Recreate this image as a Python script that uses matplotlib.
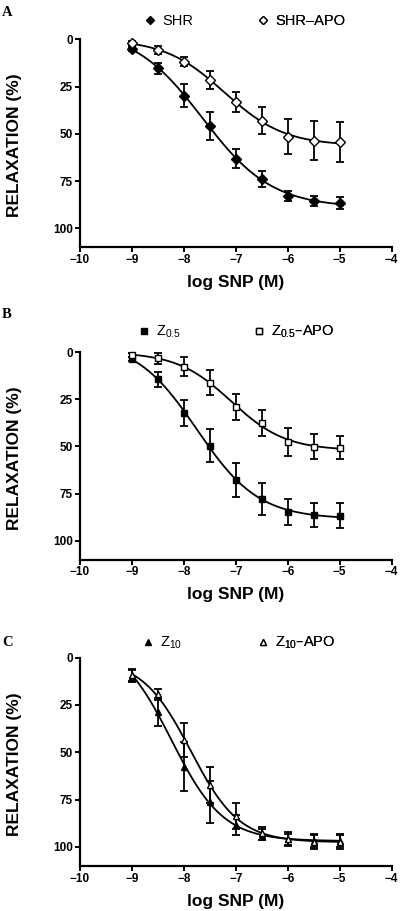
import numpy as np
import matplotlib.pyplot as plt
import matplotlib as mpl
from matplotlib.lines import Line2D

mpl.rcParams['font.family'] = 'sans-serif'
mpl.rcParams['font.sans-serif'] = ['Liberation Sans', 'DejaVu Sans']
mpl.rcParams['mathtext.default'] = 'regular'

# concentrations (log M)
log_snp = [-9, -8.5, -8, -7.5, -7, -6.5, -6, -5.5, -5]

# panel A
shr = [5.1, 15.3, 29.8, 45.9, 63.1, 73.9, 82.9, 85.4, 86.4]
shr_err = [1.0, 2.8, 6.0, 7.2, 5.0, 4.2, 2.8, 2.6, 3.2]
shr_apo = [2.1, 5.6, 11.8, 21.5, 33.0, 43.0, 51.5, 53.6, 54.5]
shr_apo_err = [1.0, 2.3, 2.5, 4.6, 5.3, 7.0, 9.2, 10.3, 10.6]

# panel B
z05 = [3.7, 14.3, 32.0, 49.7, 67.8, 77.9, 84.8, 86.4, 86.7]
z05_err = [1.0, 4.0, 6.9, 8.8, 9.0, 8.4, 7.0, 6.6, 6.5]
z05_apo = [1.4, 3.2, 7.6, 16.1, 29.2, 37.7, 47.4, 50.1, 50.6]
z05_apo_err = [1.0, 3.0, 5.1, 6.6, 6.8, 7.0, 7.4, 6.5, 6.3]

# panel C
z10 = [9.7, 28.6, 57.7, 76.2, 88.5, 93.5, 96.1, 96.8, 96.8]
z10_err = [3.0, 7.5, 13.0, 11.0, 5.3, 3.0, 2.9, 3.1, 3.3]
z10_apo = [9.2, 19.4, 43.6, 67.4, 83.8, 92.9, 95.9, 97.3, 97.3]
z10_apo_err = [3.0, 2.9, 9.0, 9.7, 7.0, 3.4, 3.5, 4.0, 4.0]

panels = [
    ('A', 'D', 'SHR', shr, shr_err, 'SHR\u2013APO', shr_apo, shr_apo_err),
    ('B', 's', 'Z$_{0.5}$', z05, z05_err, 'Z$_{0.5}$\u2013APO', z05_apo, z05_apo_err),
    ('C', '^', 'Z$_{10}$', z10, z10_err, 'Z$_{10}$\u2013APO', z10_apo, z10_apo_err),
]


def hill_fit(x, y):
    # sigmoidal dose-response, variable slope: grid over logEC50/slope, linear lsq for bottom/span
    x = np.asarray(x, float)
    y = np.asarray(y, float)
    ec, hs = np.meshgrid(np.arange(-9.5, -6.0, 0.01), np.arange(0.3, 2.5, 0.01))
    ec = ec.ravel()[:, None]
    hs = hs.ravel()[:, None]
    s = 1 / (1 + 10 ** ((ec - x[None, :]) * hs))
    sm = s.mean(1, keepdims=True)
    ym = y.mean()
    a = ((s - sm) * (y - ym)).sum(1, keepdims=True) / ((s - sm) ** 2).sum(1, keepdims=True)
    b = ym - a * sm
    sse = ((b + a * s - y) ** 2).sum(1)
    i = sse.argmin()
    return b[i, 0], a[i, 0], ec[i, 0], hs[i, 0]


def hill(x, p):
    b, a, e, h = p
    return b + a / (1 + 10 ** ((e - x) * h))


W, H = 400, 911
fig = plt.figure(figsize=(W / 100, H / 100), dpi=100)

# axes boxes in pixels: left, top, right, bottom
boxes_px = [(80, 39.3, 391.7, 247.2), (80, 352.3, 391.7, 559.5), (80, 657.7, 391.7, 865.7)]
letter_y = [12, 315, 642]
legend_y = [21, 332, 643]
legend_x = [(150, 263), (144, 259), (148, 263)]
marker_size = {'D': 5.0, 's': 4.6, '^': 5.0}

xs = np.linspace(-9, -5, 300)
for (letter, mk, lab1, y1, e1, lab2, y2, e2), bp, ly, lx, ty in zip(
        panels, boxes_px, legend_y, legend_x, letter_y):
    l, t, r, b = bp
    ax = fig.add_axes((l / W, 1 - b / H, (r - l) / W, (b - t) / H))
    ms = marker_size[mk]
    for y, e, face in [(y1, e1, 'black'), (y2, e2, 'white')]:
        ax.plot(xs, hill(xs, hill_fit(log_snp, y)), color='black', lw=1.3, zorder=2)
        ax.errorbar(log_snp, y, yerr=e, fmt='none', ecolor='black',
                    elinewidth=1.3, capsize=3, capthick=1.3, zorder=3, clip_on=False)
        ax.plot(log_snp, y, mk, ms=ms, mfc=face, mec='black', mew=1.0,
                ls='none', zorder=4, clip_on=False)

    ax.set_xlim(-10, -4)
    ax.set_ylim(110, 0)
    ax.set_xticks(range(-10, -3))
    ax.set_xticklabels(['\u2212%d' % abs(v) for v in range(-10, -3)])
    ax.set_yticks([0, 25, 50, 75, 100])
    for sp in ['top', 'right']:
        ax.spines[sp].set_visible(False)
    for sp in ['left', 'bottom']:
        ax.spines[sp].set_linewidth(1.6)
    ax.tick_params(direction='out', length=3.5, width=1.4, labelsize=8.5, pad=1.5)
    for tl in ax.get_xticklabels() + ax.get_yticklabels():
        tl.set_fontweight('bold')
    ax.set_ylabel('RELAXATION (%)', fontsize=12.5, fontweight='bold')
    ax.set_xlabel('log SNP (M)', fontsize=12.5, fontweight='bold')
    ax.yaxis.label.set_va('center')
    ax.xaxis.label.set_va('center')
    ax.yaxis.set_label_coords((15 - l) / (r - l), 0.49)
    ax.xaxis.set_label_coords(0.5, -35.5 / (b - t))

    # legend: one entry per legend so each sits where it does in the figure
    em = 10.5 * 100 / 72
    for lab, face, mx in [(lab1, 'black', lx[0]), (lab2, 'white', lx[1])]:
        h = Line2D([], [], marker=mk, ls='none', ms=ms - 0.8, mfc=face, mec='black', mew=1.0)
        leg = ax.legend([h], [lab], loc='center left',
                        bbox_to_anchor=((mx - 0.4 * em - l) / (r - l), (b - ly) / (b - t)),
                        frameon=False, fontsize=10.5, handlelength=0.8, handletextpad=0.45,
                        borderpad=0, borderaxespad=0)
        ax.add_artist(leg)

    fig.text(2 / W, 1 - ty / H, letter, family='Liberation Serif',
             fontweight='bold', fontsize=10.5, va='center', ha='left')

fig.savefig('out.png', dpi=100)
